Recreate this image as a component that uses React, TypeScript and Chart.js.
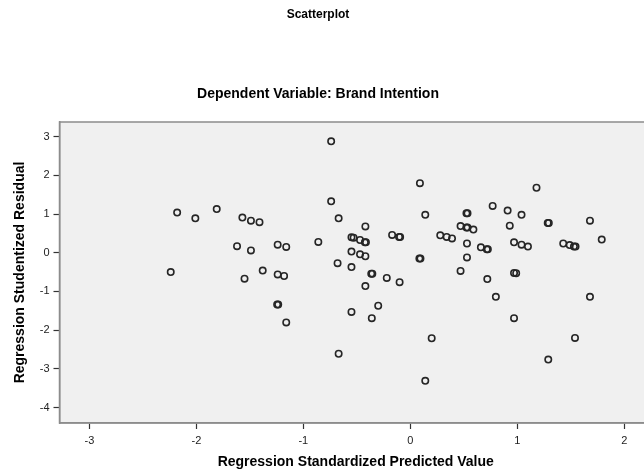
import { useEffect, useRef } from "react";
import { Chart, registerables } from "chart.js";

Chart.register(...registerables);

const chartTitle = "Scatterplot";
const chartSubtitle = "Dependent Variable: Brand Intention";
const xAxisTitle = "Regression Standardized Predicted Value";
const yAxisTitle = "Regression Studentized Residual";

const xTicks = [-3, -2, -1, 0, 1, 2];
const yTicks = [3, 2, 1, 0, -1, -2, -3, -4];

const predicted = [
  -2.24, -2.18, -2.01, -1.81, -1.62, -1.57, -1.55, -1.49, -1.49, -1.41,
  -1.38, -1.24, -1.16, -1.24, -1.18, -1.245, -1.235, -1.16, -0.86, -0.74,
  -0.74, -0.67, -0.68, -0.67, -0.55, -0.53, -0.47, -0.425, -0.415, -0.42,
  -0.55, -0.47, -0.42, -0.55, -0.55, -0.42, -0.365, -0.355, -0.36, -0.3,
  -0.22, -0.17, -0.105, -0.095, -0.1, 0.09, 0.14, 0.085, 0.095, 0.2,
  0.14, 0.28, 0.34, 0.39, 0.47, 0.525, 0.535, 0.525, 0.535, 0.59,
  0.53, 0.53, 0.47, 0.66, 0.715, 0.725, 0.72, 0.77, 0.8, 0.91,
  0.93, 0.97, 0.97, 0.99, 0.97, 1.04, 1.04, 1.1, 1.18, 1.285,
  1.295, 1.29, 1.43, 1.49, 1.53, 1.545, 1.54, 1.68, 1.68, 1.79,
];

const residual = [
  -0.5, 1.04, 0.89, 1.13, 0.17, 0.91, -0.67, 0.83, 0.06, 0.79,
  -0.46, 0.21, 0.15, -0.56, -0.6, -1.34, -1.34, -1.8, 0.28, 2.88,
  1.33, 0.89, -0.27, -2.61, 0.4, 0.39, 0.33, 0.27, 0.27, 0.68,
  0.03, -0.04, -0.09, -0.37, -1.53, -0.86, -0.54, -0.54, -1.69, -1.37,
  -0.65, 0.46, 0.41, 0.41, -0.76, 1.8, 0.98, -0.15, -0.15, -2.21,
  -3.31, 0.45, 0.41, 0.37, 0.69, 1.02, 1.02, 0.65, 0.65, 0.6,
  0.24, -0.12, -0.47, 0.14, 0.09, 0.09, -0.68, 1.21, -1.14, 1.09,
  0.7, 0.27, -0.52, -0.53, -1.69, 0.98, 0.21, 0.16, 1.68, 0.77,
  0.77, -2.76, 0.24, 0.2, 0.16, 0.16, -2.2, 0.83, -1.14, 0.34,
];

const FONT = "'Liberation Sans', Arial, sans-serif";

const framePlugin = {
  id: "spssFrame",
  beforeDraw(chart: any) {
    const { ctx, chartArea, width, height } = chart;
    ctx.save();
    ctx.fillStyle = "#ffffff";
    ctx.fillRect(0, 0, width, height);
    ctx.fillStyle = "#f0f0f0";
    ctx.fillRect(chartArea.left, chartArea.top, chartArea.right - chartArea.left, chartArea.bottom - chartArea.top);
    ctx.restore();
  },
  afterDraw(chart: any) {
    const { ctx, chartArea } = chart;
    ctx.save();
    ctx.strokeStyle = "#8c8c8c";
    ctx.lineWidth = 1.5;
    ctx.strokeRect(chartArea.left, chartArea.top, chartArea.right - chartArea.left, chartArea.bottom - chartArea.top);
    ctx.fillStyle = "#000000";
    ctx.textAlign = "center";
    ctx.textBaseline = "middle";
    ctx.font = `bold 12px ${FONT}`;
    ctx.fillText(chartTitle, 318, 15);
    ctx.font = `bold 14px ${FONT}`;
    ctx.fillText(chartSubtitle, 318, 94);
    ctx.restore();
  },
};

export default function App() {
  const canvasRef = useRef<HTMLCanvasElement | null>(null);

  useEffect(() => {
    const canvas = canvasRef.current;
    if (!canvas) return;
    const data = predicted.map((x, i) => ({ x, y: residual[i] }));
    const chart = new Chart(canvas, {
      type: "scatter",
      data: {
        datasets: [
          {
            data,
            pointStyle: "circle",
            pointRadius: 3.2,
            pointBorderWidth: 1.6,
            pointBorderColor: "#262626",
            pointBackgroundColor: "rgba(0,0,0,0)",
            pointHoverRadius: 3.2,
          },
        ],
      },
      options: {
        animation: false,
        responsive: false,
        devicePixelRatio: 1,
        layout: { padding: { top: 122, left: 0, right: 8, bottom: 0 } },
        plugins: {
          legend: { display: false },
          tooltip: { enabled: false },
          title: { display: false },
        },
        scales: {
          x: {
            type: "linear",
            min: -3.28,
            max: 2.26,
            afterBuildTicks: (scale: any) => {
              scale.ticks = xTicks.map((v) => ({ value: v }));
            },
            afterFit: (scale: any) => {
              scale.height = 48;
            },
            grid: {
              drawOnChartArea: false,
              drawTicks: true,
              tickLength: 6,
              tickColor: "#333333",
              tickWidth: 1.2,
            },
            border: { display: true, color: "#8c8c8c", width: 1.5 },
            ticks: {
              padding: 5,
              color: "#222222",
              font: { family: FONT, size: 11 },
              callback: (v: any) => String(v),
            },
            title: {
              display: true,
              text: xAxisTitle,
              color: "#000000",
              font: { family: FONT, size: 14, weight: "bold" },
              padding: { top: 0, bottom: 0 },
            },
          },
          y: {
            type: "linear",
            min: -4.4,
            max: 3.38,
            afterBuildTicks: (scale: any) => {
              scale.ticks = yTicks.map((v) => ({ value: v }));
            },
            afterFit: (scale: any) => {
              scale.width = 59.5;
            },
            grid: {
              drawOnChartArea: false,
              drawTicks: true,
              tickLength: 6,
              tickColor: "#333333",
              tickWidth: 1.2,
            },
            border: { display: true, color: "#8c8c8c", width: 1.5 },
            ticks: {
              padding: 4,
              color: "#222222",
              font: { family: FONT, size: 11 },
              callback: (v: any) => String(v),
            },
            title: {
              display: true,
              text: yAxisTitle,
              color: "#000000",
              font: { family: FONT, size: 14, weight: "bold" },
              padding: { top: 12, bottom: 0 },
            },
          },
        },
      },
      plugins: [framePlugin],
    });
    return () => chart.destroy();
  }, []);

  return (
    <div style={{ position: "absolute", left: 0, top: 0, width: 644, height: 471, overflow: "hidden", background: "#fff" }}>
      <canvas ref={canvasRef} width={660} height={471} style={{ display: "block", width: 660, height: 471 }} />
    </div>
  );
}
